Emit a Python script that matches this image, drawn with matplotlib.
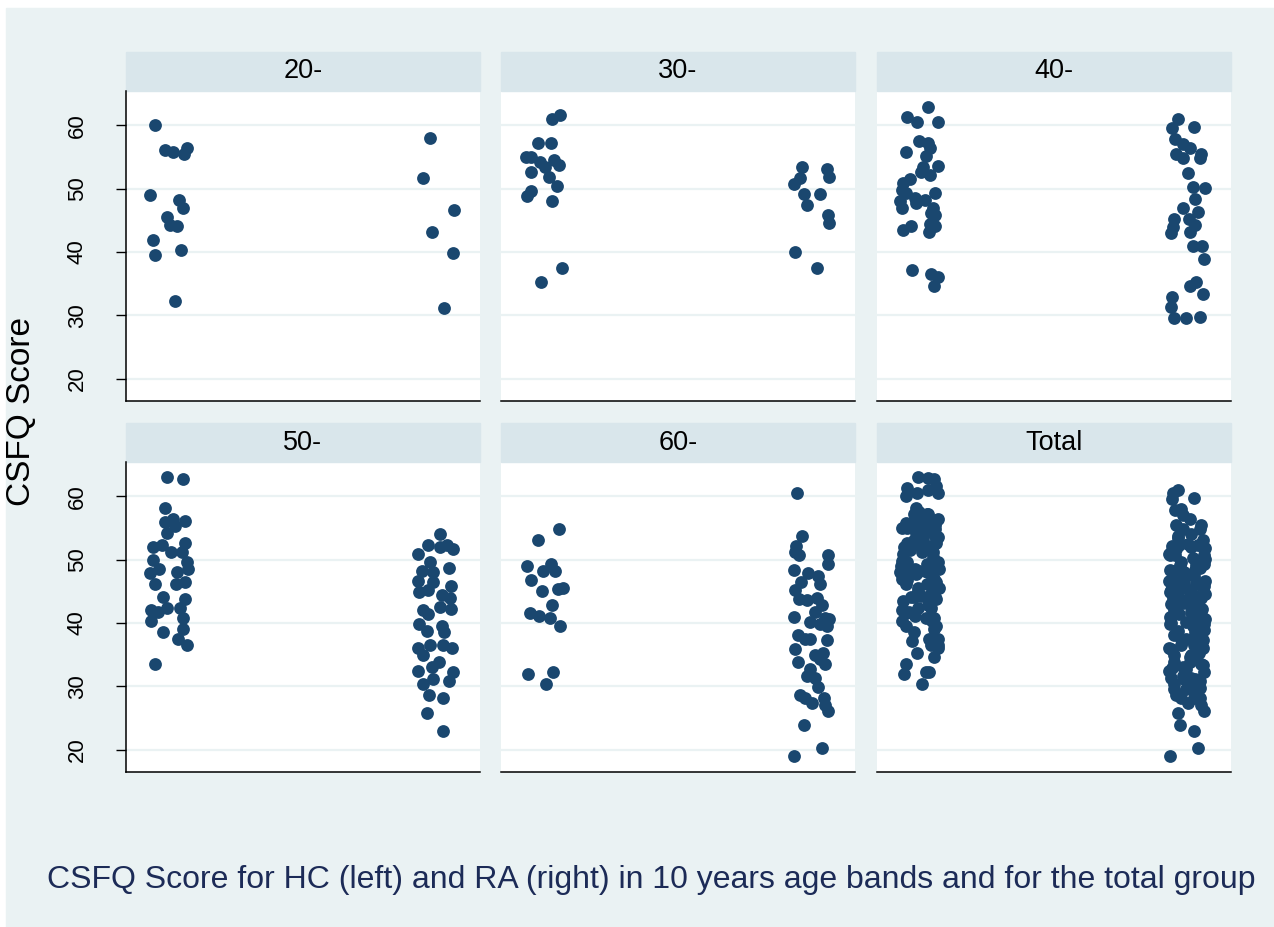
import numpy as np
import matplotlib
matplotlib.use("Agg")
import matplotlib.pyplot as plt
from matplotlib.patches import Rectangle

plt.rcParams['font.family'] = ['Liberation Sans', 'DejaVu Sans']

# CSFQ scores, with the horizontal jitter of every dot
hc_20 = [60.0, 56.2, 55.8, 55.5, 56.4, 49.0, 48.3, 46.9, 45.5, 44.3, 44.1, 41.9, 39.5, 40.3, 32.2]
hc_20_jit = [-0.049, -0.012, 0.018, 0.059, 0.067, -0.066, 0.038, 0.055, -0.005, 0.006, 0.032, -0.057, -0.049, 0.046, 0.024]
ra_20 = [58.1, 51.7, 46.7, 43.1, 39.8, 31.1]
ra_20_jit = [-0.040, -0.066, 0.046, -0.033, 0.044, 0.011]

hc_30 = [61.0, 61.6, 57.2, 57.2, 55.0, 55.0, 54.3, 53.4, 54.5, 53.8, 52.7, 51.9, 50.4, 49.6, 48.9, 48.1, 37.5, 35.2]
hc_30_jit = [0.033, 0.061, -0.018, 0.028, -0.065, -0.045, -0.012, 0.006, 0.040, 0.057, -0.046, 0.021, 0.049, -0.046, -0.059, 0.033, 0.068, -0.007]
ra_30 = [53.5, 53.2, 51.8, 51.7, 50.8, 49.2, 49.1, 47.5, 45.9, 44.6, 40.0, 37.5]
ra_30_jit = [-0.053, 0.039, 0.046, -0.059, -0.082, -0.043, 0.015, -0.032, 0.044, 0.049, -0.077, 0.002]

hc_40 = [63.0, 61.4, 60.6, 60.5, 57.5, 57.2, 56.5, 55.8, 55.2, 53.4, 53.6, 52.2, 51.6, 50.9, 49.8, 49.4, 48.6, 48.3,
         48.1, 47.0, 47.0, 45.9, 44.4, 44.1, 44.1, 43.5, 43.1, 37.1, 36.5, 36.0, 34.6, 49.3, 47.8, 52.7, 46.2]
hc_40_jit = [0.033, -0.045, -0.007, 0.067, -0.001, 0.033, 0.040, -0.050, 0.026, 0.013, 0.068, 0.040, -0.035, -0.060,
             -0.064, 0.059, -0.017, 0.020, -0.070, -0.062, 0.050, 0.059, 0.038, 0.056, -0.029, -0.060, 0.036, -0.026,
             0.042, 0.068, 0.053, -0.048, -0.011, 0.007, 0.044]
ra_40 = [61.0, 59.6, 59.7, 57.9, 57.0, 56.5, 55.5, 54.8, 55.5, 54.8, 52.5, 50.2, 50.1, 48.4, 46.9, 46.3, 45.2, 45.2,
         44.2, 43.9, 43.0, 43.1, 41.0, 41.0, 38.9, 34.7, 35.3, 33.3, 32.9, 31.3, 29.5, 29.5, 29.7]
ra_40_jit = [-0.051, -0.072, 0.006, -0.064, -0.034, -0.009, -0.057, -0.034, 0.034, 0.028, -0.016, 0.003, 0.049, 0.010,
             -0.034, 0.022, -0.065, -0.010, 0.010, -0.071, -0.077, -0.009, 0.004, 0.038, 0.044, -0.009, 0.013, 0.040,
             -0.073, -0.077, -0.065, -0.021, 0.028]

hc_50 = [63.1, 62.7, 58.2, 56.5, 55.9, 56.2, 55.4, 54.3, 52.7, 52.0, 52.3, 51.2, 51.2, 49.9, 49.7, 48.6, 47.9, 48.1,
         48.6, 46.5, 46.2, 46.1, 44.1, 43.8, 42.4, 42.0, 42.4, 41.7, 40.8, 40.3, 39.1, 38.6, 37.4, 36.5, 33.5]
hc_50_jit = [-0.005, 0.053, -0.013, 0.018, -0.012, 0.061, 0.024, -0.006, 0.061, -0.057, -0.024, 0.009, 0.049, -0.055,
             0.067, -0.033, -0.067, 0.031, 0.073, 0.061, 0.028, -0.049, -0.021, 0.061, -0.006, -0.065, 0.043, -0.037,
             0.055, -0.065, 0.053, -0.018, 0.037, 0.067, -0.049]
ra_50 = [54.0, 52.3, 52.0, 51.7, 52.3, 50.9, 49.6, 48.7, 48.3, 48.1, 46.6, 46.5, 45.8, 44.9, 45.2, 44.4, 43.9, 42.5,
         42.2, 42.0, 41.4, 39.9, 38.8, 39.6, 38.6, 36.1, 36.6, 36.6, 36.1, 34.9, 33.9, 33.1, 32.4, 32.3, 31.2, 30.8,
         30.3, 28.7, 28.2, 25.8, 23.0]
ra_50_jit = [-0.002, -0.046, -0.004, 0.043, 0.021, -0.086, -0.042, 0.031, -0.071, -0.028, -0.083, -0.028, 0.037,
             -0.079, -0.046, 0.002, 0.033, -0.004, 0.037, -0.067, -0.046, -0.079, -0.053, 0.002, 0.012, -0.083, -0.040,
             0.006, 0.039, -0.065, -0.006, -0.034, -0.083, 0.043, -0.028, 0.031, -0.067, -0.043, 0.009, -0.053, 0.006]

hc_60 = [54.9, 53.2, 49.0, 49.3, 48.3, 48.3, 46.8, 45.1, 45.4, 45.6, 42.9, 41.6, 41.1, 40.8, 39.5, 31.9, 32.2, 30.3]
hc_60_jit = [0.059, -0.018, -0.061, 0.028, 0.0, 0.043, -0.046, -0.006, 0.055, 0.073, 0.033, -0.049, -0.015, 0.024,
             0.061, -0.057, 0.034, 0.009]
ra_60 = [60.5, 53.7, 52.1, 51.2, 50.7, 50.8, 49.4, 48.4, 47.9, 47.5, 46.2, 46.5, 45.2, 43.8, 43.6, 43.9, 42.9, 41.7,
         40.9, 40.8, 40.7, 40.2, 39.9, 39.6, 38.1, 37.5, 37.5, 37.3, 35.9, 34.9, 35.2, 33.8, 34.3, 33.6, 32.8, 31.7,
         31.3, 29.9, 28.7, 28.1, 27.4, 28.2, 27.0, 26.1, 23.9, 20.2, 19.0]
ra_60_jit = [-0.071, -0.050, -0.075, -0.077, -0.062, 0.043, 0.043, -0.079, -0.028, 0.006, 0.015, -0.055, -0.077,
             -0.062, -0.034, 0.002, 0.021, -0.004, -0.081, 0.033, 0.049, -0.022, 0.015, 0.039, -0.065, -0.040, -0.022,
             0.041, -0.077, -0.004, 0.027, -0.065, 0.015, 0.033, -0.022, -0.034, -0.004, 0.009, -0.059, -0.040,
             -0.013, 0.031, 0.033, 0.043, -0.043, 0.021, -0.081]

bands = ['20-', '30-', '40-', '50-', '60-']
hc_all = [hc_20, hc_30, hc_40, hc_50, hc_60]
hc_jit = [hc_20_jit, hc_30_jit, hc_40_jit, hc_50_jit, hc_60_jit]
ra_all = [ra_20, ra_30, ra_40, ra_50, ra_60]
ra_jit = [ra_20_jit, ra_30_jit, ra_40_jit, ra_50_jit, ra_60_jit]

# total group = all bands together
panels = [(b, h, hj, r, rj) for b, h, hj, r, rj in zip(bands, hc_all, hc_jit, ra_all, ra_jit)]
panels.append(('Total', sum(hc_all, []), sum(hc_jit, []), sum(ra_all, []), sum(ra_jit, [])))

bg = '#eaf2f3'
strip_col = '#d9e6eb'
dot = '#1a476f'

W, H = 1274, 927
fig = plt.figure(figsize=(W / 100, H / 100), dpi=100, facecolor='white')
fig.patches.append(Rectangle((6 / W, 0), 1, 919 / H, transform=fig.transFigure, color=bg, zorder=-10))

lefts = [126, 501, 877]
tops = [91, 462]
pw, ph, sh = 354, 310, 39

for i, (name, hc, hj, ra, rj) in enumerate(panels):
    r, c = divmod(i, 3)
    ax = fig.add_axes([lefts[c] / W, 1 - (tops[r] + ph) / H, pw / W, ph / H])
    ax.set_facecolor('white')
    ax.scatter(1 + np.array(hj), hc, s=85, color=dot, linewidths=0, zorder=3)
    ax.scatter(2 + np.array(rj), ra, s=85, color=dot, linewidths=0, zorder=3)
    ax.set_xlim(0.845, 2.143)
    ax.set_ylim(16.45, 65.45)
    ax.set_yticks([20, 30, 40, 50, 60])
    ax.grid(axis='y', color=bg, lw=1.6, zorder=0)
    ax.set_axisbelow(True)
    ax.set_xticks([])
    for s in ['top', 'right']:
        ax.spines[s].set_visible(False)
    ax.spines['bottom'].set_linewidth(1.1)
    if c == 0:
        ax.spines['left'].set_linewidth(1.1)
        ax.tick_params(axis='y', length=7.5, width=1.0, pad=20, labelsize=16)
        for lab in ax.get_yticklabels():
            lab.set_rotation(90)
            lab.set_va('center')
    else:
        ax.spines['left'].set_visible(False)
        ax.tick_params(axis='y', length=0, labelleft=False)
    ax.add_patch(Rectangle((0, 1), 1, sh / ph, transform=ax.transAxes, color=strip_col,
                           clip_on=False, zorder=1))
    ax.text(0.5, 1 + sh / ph / 2, name, transform=ax.transAxes, ha='center', va='center', fontsize=19.5)

fig.text(22 / W, 1 - 411 / H, 'CSFQ Score', rotation=90, ha='center', va='center', fontsize=24)
fig.text(651 / W, 1 - 880 / H,
         'CSFQ Score for HC (left) and RA (right) in 10 years age bands and for the total group',
         ha='center', va='center', fontsize=23, color='#1c2b57')

plt.savefig('out.png', dpi=100, facecolor=fig.get_facecolor())
